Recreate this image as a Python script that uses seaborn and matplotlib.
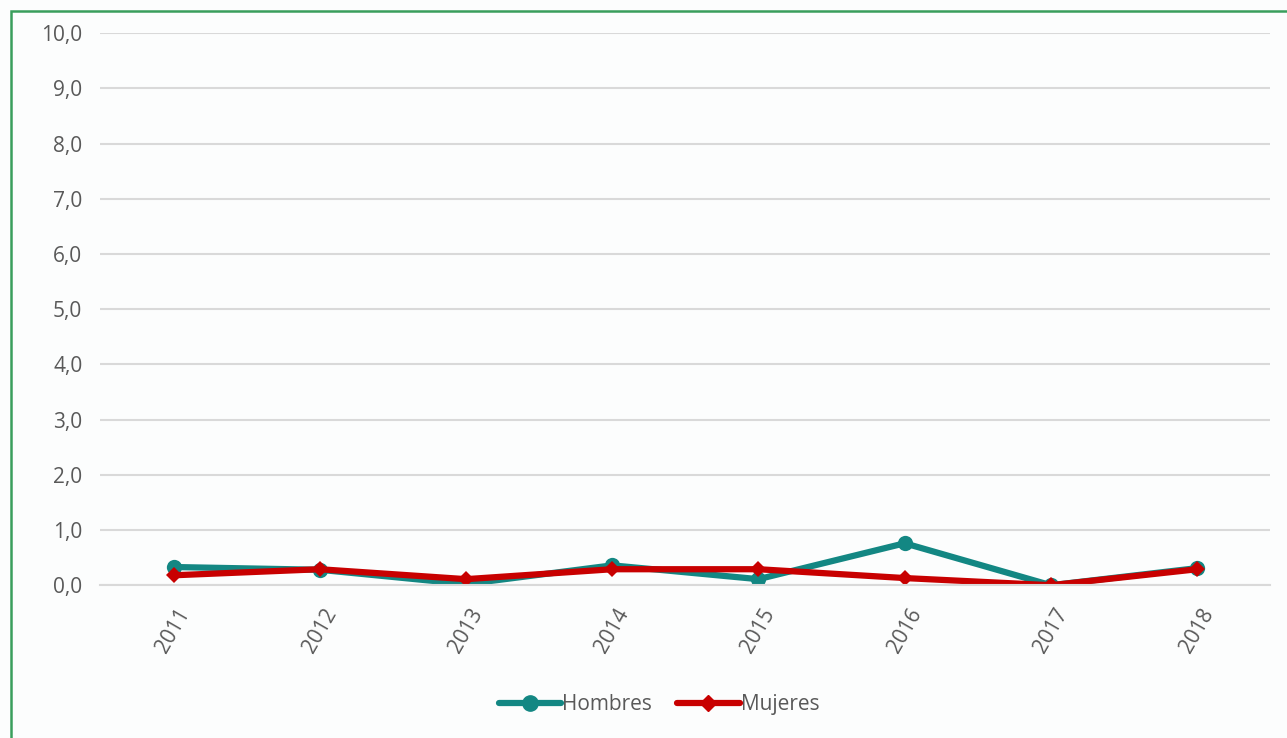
import numpy as np
import pandas as pd
import matplotlib
matplotlib.use("Agg")
import matplotlib.pyplot as plt
import seaborn as sns
from matplotlib.patches import Rectangle
from matplotlib.lines import Line2D

# data
years = ["2011", "2012", "2013", "2014", "2015", "2016", "2017", "2018"]
hombres = [0.33, 0.28, 0.02, 0.36, 0.11, 0.76, 0.0, 0.31]
mujeres = [0.18, 0.29, 0.11, 0.29, 0.29, 0.13, 0.0, 0.29]
series_names = ["Hombres", "Mujeres"]
y_ticks = [0, 1, 2, 3, 4, 5, 6, 7, 8, 9, 10]

df = pd.DataFrame(
    {
        "Año": years * 2,
        "Valor": hombres + mujeres,
        "Serie": [series_names[0]] * len(years) + [series_names[1]] * len(years),
    }
)

sns.set_style("white")
plt.rcParams["font.family"] = ["Open Sans", "DejaVu Sans"]

text_grey = "#595959"
palette = {"Hombres": "#138783", "Mujeres": "#c80000"}

fig = plt.figure(figsize=(12.87, 7.38), dpi=100)
fig.patch.set_facecolor("#fcfdfd")
ax = fig.add_axes([0.078, 0.207, 0.909, 0.748])
ax.set_facecolor("#fcfdfd")

sns.lineplot(
    data=df,
    x="Año",
    y="Valor",
    hue="Serie",
    style="Serie",
    markers={"Hombres": "o", "Mujeres": "D"},
    dashes=False,
    palette=palette,
    linewidth=4.5,
    markersize=11,
    markeredgewidth=0,
    ax=ax,
    legend=False,
)
# diamonds a bit smaller than the circles
for line in ax.lines:
    if line.get_marker() == "D":
        line.set_markersize(8)

ax.set_ylim(0, 10)
ax.set_xlim(-0.5, len(years) - 0.5)
ax.set_yticks(y_ticks)
ax.set_yticklabels([f"{v:.1f}".replace(".", ",") for v in y_ticks])
ax.yaxis.grid(True, color="#d9d9d9", linewidth=1.5)
ax.set_axisbelow(True)
ax.xaxis.grid(False)
for s in ["top", "right", "left"]:
    ax.spines[s].set_visible(False)
ax.spines["bottom"].set_color("#d9d9d9")
ax.spines["bottom"].set_linewidth(1.5)
ax.tick_params(axis="y", length=0, labelsize=15, labelcolor=text_grey, pad=13)
ax.tick_params(axis="x", length=0, labelsize=15, labelcolor=text_grey, pad=14)
plt.setp(ax.get_xticklabels(), rotation=60, ha="center", va="top")
ax.set_xlabel("")
ax.set_ylabel("")

# legend
handles = [
    Line2D([0], [0], color=palette["Hombres"], lw=4.5, marker="o", markersize=11),
    Line2D([0], [0], color=palette["Mujeres"], lw=4.5, marker="D", markersize=8),
]
fig.legend(
    handles,
    series_names,
    loc="center",
    bbox_to_anchor=(0.512, 0.045),
    ncol=2,
    frameon=False,
    fontsize=15,
    labelcolor=text_grey,
    handlelength=3.0,
    handletextpad=0.05,
    columnspacing=1.2,
)

# green frame at top/left
fig.patches.append(
    Rectangle(
        (11 / 1287, -0.05),
        1.2,
        1 - 11 / 738 + 0.05,
        transform=fig.transFigure,
        fill=False,
        edgecolor="#3a9e5c",
        linewidth=1.8,
    )
)

fig.savefig("out.png", dpi=100, facecolor=fig.get_facecolor())
